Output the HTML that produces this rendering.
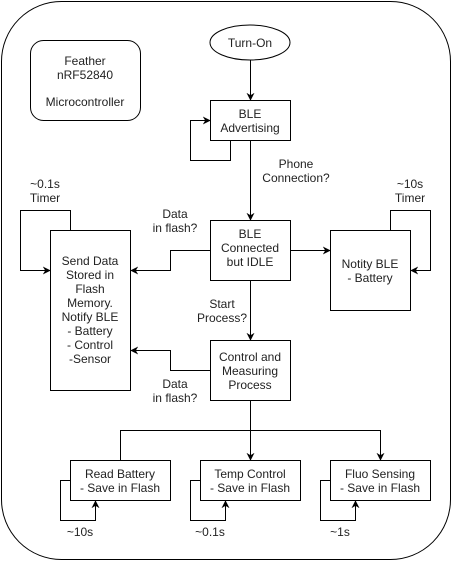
<!DOCTYPE html>
<html><head><style>body{margin:0;background:#fff}svg{display:block}text{font-family:"Liberation Sans",Arial,sans-serif;font-size:12px;fill:#222}</style></head>
<body>
<svg width="452" height="561" viewBox="0 0 452 561" xmlns="http://www.w3.org/2000/svg">
<defs><marker id="a" viewBox="0 0 10 10" refX="9" refY="5" markerWidth="8" markerHeight="8" orient="auto" markerUnits="userSpaceOnUse"><path d="M0,0 L10,5 L0,10 L3,5 Z" fill="#000"/></marker></defs>
<g fill="none" stroke="#000" stroke-width="1">
<rect x="1.5" y="1.5" width="449" height="558" rx="60" ry="60"/>
<rect x="30.5" y="40.5" width="110" height="80" rx="13"/>
<ellipse cx="250" cy="42.5" rx="40" ry="17.5"/>
<rect x="210.5" y="100.5" width="80" height="40"/>
<rect x="50.5" y="230.5" width="80" height="160"/>
<rect x="210.5" y="220.5" width="80" height="60"/>
<rect x="330.5" y="230.5" width="80" height="80"/>
<rect x="210.5" y="340.5" width="80" height="60"/>
<rect x="70.5" y="460.5" width="100" height="40"/>
<rect x="200.5" y="460.5" width="100" height="40"/>
<rect x="330.5" y="460.5" width="100" height="40"/>
<path d="M250.5 60 V100" marker-end="url(#a)"/>
<path d="M230.5 140 V160.5 H190.5 V120.5 H210" marker-end="url(#a)"/>
<path d="M250.5 140 V220" marker-end="url(#a)"/>
<path d="M210 250.5 H170.5 V270.5 H131" marker-end="url(#a)"/>
<path d="M290 250.5 H330" marker-end="url(#a)"/>
<path d="M250.5 280 V340" marker-end="url(#a)"/>
<path d="M210 370.5 H170.5 V350.5 H131" marker-end="url(#a)"/>
<path d="M70.5 230 V210.5 H20.5 V270.5 H50" marker-end="url(#a)"/>
<path d="M390.5 230 V210.5 H430.5 V270.5 H411" marker-end="url(#a)"/>
<path d="M250.5 400 V460" marker-end="url(#a)"/>
<path d="M120.5 460 V430.5 H380.5 V460" marker-end="url(#a)"/>
<path d="M70 480.5 H60.5 V520.5 H95.5 V501" marker-end="url(#a)"/>
<path d="M200 480.5 H190.5 V520.5 H225.5 V501" marker-end="url(#a)"/>
<path d="M330 480.5 H320.5 V520.5 H355.5 V501" marker-end="url(#a)"/>
</g>
<g text-anchor="middle">
<text x="85" y="65">Feather</text><text x="85" y="79">nRF52840</text><text x="85" y="106">Microcontroller</text>
<text x="250" y="47">Turn-On</text>
<text x="250" y="118">BLE</text><text x="250" y="132">Advertising</text>
<text x="296" y="168">Phone</text><text x="296" y="182">Connection?</text>
<text x="45" y="188">~0.1s</text><text x="45" y="202">Timer</text>
<text x="410" y="188">~10s</text><text x="410" y="202">Timer</text>
<text x="175" y="218">Data</text><text x="175" y="232">in flash?</text>
<text x="250" y="238">BLE</text><text x="250" y="252">Connected</text><text x="250" y="266">but IDLE</text>
<text x="370" y="268">Notity BLE</text><text x="370" y="282">- Battery</text>
<text x="90" y="265">Send Data</text><text x="90" y="279">Stored in</text><text x="90" y="293">Flash</text><text x="90" y="307">Memory.</text><text x="90" y="321">Notify BLE</text><text x="90" y="335">- Battery</text><text x="90" y="349">- Control</text><text x="90" y="363">-Sensor</text>
<text x="222" y="308">Start</text><text x="222" y="322">Process?</text>
<text x="250" y="361">Control and</text><text x="250" y="375">Measuring</text><text x="250" y="389">Process</text>
<text x="175" y="388">Data</text><text x="175" y="402">in flash?</text>
<text x="120" y="478">Read Battery</text><text x="120" y="492">- Save in Flash</text>
<text x="250" y="478">Temp Control</text><text x="250" y="492">- Save in Flash</text>
<text x="380" y="478">Fluo Sensing</text><text x="380" y="492">- Save in Flash</text>
<text x="80" y="536">~10s</text><text x="210" y="536">~0.1s</text><text x="340" y="536">~1s</text>
</g>
</svg>
</body></html>
